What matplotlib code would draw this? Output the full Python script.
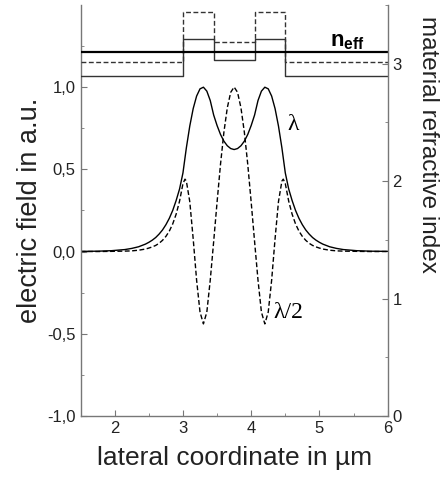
import numpy as np
import matplotlib
matplotlib.use("Agg")
import matplotlib.pyplot as plt
from matplotlib.ticker import MultipleLocator, FixedLocator, FuncFormatter

plt.rcParams['font.family'] = ['Liberation Sans', 'DejaVu Sans']
plt.rcParams['mathtext.fontset'] = 'custom'
plt.rcParams['mathtext.rm'] = 'Liberation Sans'
plt.rcParams['mathtext.bf'] = 'Liberation Sans:bold'

# lateral coordinate (um)
x = [1.5, 1.75, 1.95, 2.15, 2.25, 2.35, 2.45, 2.5, 2.55, 2.6, 2.65, 2.7, 2.75,
     2.8, 2.85, 2.9, 2.95, 3.0, 3.03, 3.05, 3.1, 3.15, 3.2, 3.25, 3.3, 3.35, 3.4,
     3.45, 3.5, 3.55, 3.6, 3.65, 3.7, 3.75, 3.8, 3.85, 3.9, 3.95, 4.0, 4.05,
     4.1, 4.15, 4.2, 4.25, 4.3, 4.35, 4.4, 4.45, 4.47, 4.5, 4.55, 4.6, 4.65,
     4.7, 4.75, 4.8, 4.85, 4.9, 4.95, 5.0, 5.05, 5.15, 5.25, 5.35, 5.55, 5.75, 6.0]

# field of the lambda mode (solid)
e_lambda = [0.001, 0.002, 0.005, 0.012, 0.019, 0.029, 0.045, 0.056, 0.069, 0.085,
            0.106, 0.131, 0.163, 0.202, 0.250, 0.310, 0.380, 0.478, 0.57, 0.631,
            0.763, 0.869, 0.945, 0.989, 0.999, 0.975, 0.918, 0.830, 0.766, 0.712,
            0.671, 0.643, 0.626, 0.620, 0.626, 0.643, 0.671, 0.712, 0.766, 0.830,
            0.918, 0.975, 0.999, 0.989, 0.945, 0.869, 0.763, 0.631, 0.57, 0.478,
            0.380, 0.310, 0.250, 0.202, 0.163, 0.131, 0.106, 0.085, 0.069, 0.056,
            0.045, 0.029, 0.019, 0.012, 0.005, 0.002, 0.001]

# field of the lambda/2 mode (dashed)
e_half = [0.0, 0.0, 0.001, 0.0025, 0.004, 0.008, 0.015, 0.021, 0.028, 0.037,
          0.050, 0.068, 0.092, 0.124, 0.168, 0.227, 0.306, 0.413, 0.44, 0.428,
          0.303, 0.077, -0.174, -0.368, -0.44, -0.368, -0.174, 0.06, 0.300, 0.529,
          0.725, 0.874, 0.968, 1.0, 0.968, 0.874, 0.725, 0.529, 0.300, 0.06,
          -0.174, -0.368, -0.44, -0.368, -0.174, 0.077, 0.303, 0.428, 0.44, 0.413,
          0.306, 0.227, 0.168, 0.124, 0.092, 0.068, 0.050, 0.037, 0.028, 0.021,
          0.015, 0.008, 0.004, 0.0025, 0.001, 0.0, 0.0]

# material refractive index profiles (step edges)
x_steps = [1.5, 3.0, 3.45, 4.05, 4.5, 6.0]
n_solid = [2.89, 3.21, 3.03, 3.21, 2.89, 2.89]
n_dashed = [3.01, 3.44, 3.18, 3.44, 3.01, 3.01]
n_eff = 3.10

fig = plt.figure(figsize=(4.43, 4.79), dpi=100)
ax = fig.add_axes([0.182, 0.1315, 0.693, 0.8585])
ax2 = ax.twinx()

ax.plot(x, e_lambda, color='black', lw=1.0)
ax.plot(x, e_half, color='black', lw=1.0, dashes=(3.5, 1.8))

ax2.plot(x_steps, n_solid, drawstyle='steps-post', color='#333333', lw=1.0)
ax2.plot(x_steps, n_dashed, drawstyle='steps-post', color='#333333', lw=1.0,
         dashes=(3.5, 1.8))
ax2.plot([1.5, 6.0], [n_eff, n_eff], color='black', lw=1.6)

ax.set_xlim(1.5, 6.0)
ax.set_ylim(-1.0, 1.5)
ax2.set_ylim(0, 3.5)

ax.xaxis.set_major_locator(MultipleLocator(1))
ax.xaxis.set_minor_locator(MultipleLocator(0.5))
ax.yaxis.set_major_locator(FixedLocator([-1.0, -0.5, 0.0, 0.5, 1.0]))
ax.yaxis.set_minor_locator(FixedLocator([-0.75, -0.25, 0.25, 0.75, 1.25]))
ax.yaxis.set_major_formatter(FuncFormatter(lambda v, p: f"{v:.1f}".replace('.', ',')))
ax2.yaxis.set_major_locator(FixedLocator([0, 1, 2, 3]))
ax2.yaxis.set_minor_locator(FixedLocator([0.5, 1.5, 2.5, 3.5]))

spine_col = '#777777'
for a in (ax, ax2):
    a.spines['top'].set_visible(False)
    for s in a.spines.values():
        s.set_color(spine_col)
        s.set_linewidth(1.0)
ax.spines['right'].set_visible(False)
ax2.spines['left'].set_visible(False)
ax2.spines['bottom'].set_visible(False)

for a in (ax, ax2):
    a.tick_params(which='both', direction='in', color=spine_col, labelsize=12,
                  labelcolor='#222222')
    a.tick_params(which='major', length=4)
    a.tick_params(which='minor', length=2.5)

ax.set_xlabel('lateral coordinate in µm', fontsize=19, color='#222222', labelpad=7)
ax.set_ylabel('electric field in a.u.', fontsize=19.5, color='#222222', labelpad=3)
ax2.set_ylabel('material refractive index', fontsize=17.5, color='#222222',
               rotation=270, va='center')
ax2.yaxis.set_label_coords(1.131, 0.66)

ax.text(4.61, 0.77, 'λ', fontsize=17, family=['Liberation Serif', 'DejaVu Serif'],
        ha='center', va='center')
ax.text(4.54, -0.37, 'λ/2', fontsize=17, family=['Liberation Serif', 'DejaVu Serif'],
        ha='center', va='center')
ax2.text(5.15, 3.15, r'$\mathbf{n_{eff}}$', fontsize=16, ha='left', va='baseline')

fig.savefig('out.png', dpi=100)
